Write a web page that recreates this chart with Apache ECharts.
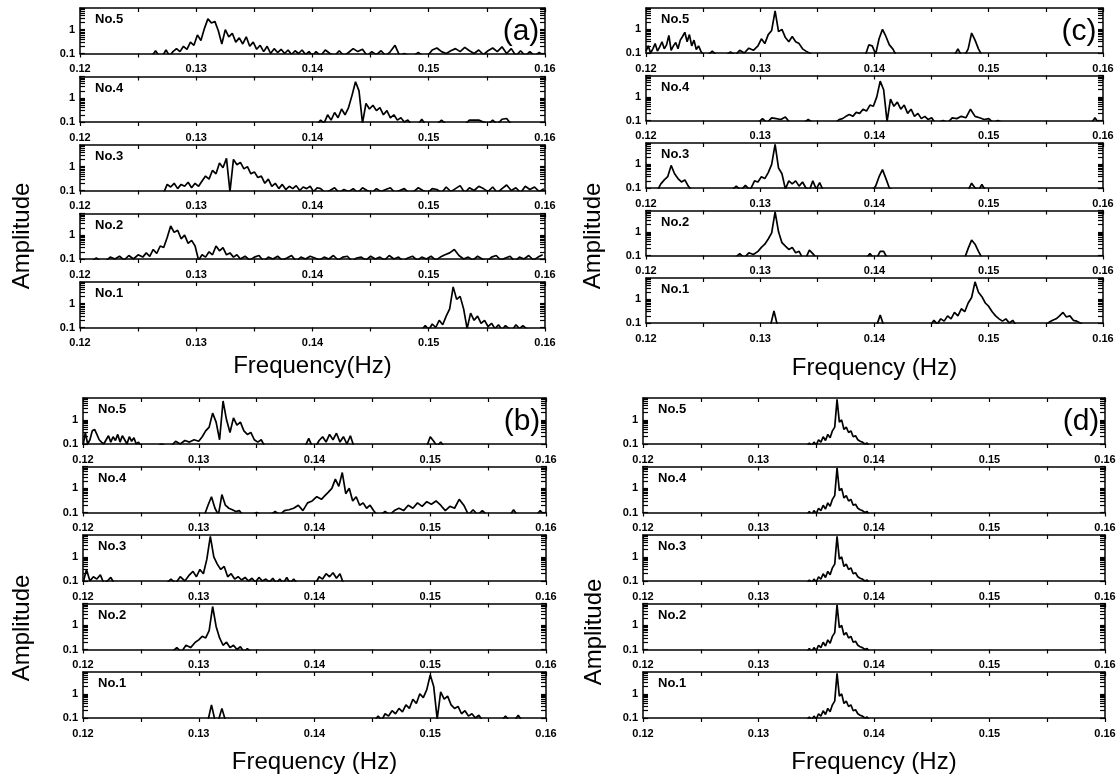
<!DOCTYPE html>
<html>
<head>
<meta charset="utf-8">
<script src="https://cdn.jsdelivr.net/npm/echarts/dist/echarts.min.js"></script>
<style>
  html, body { margin: 0; background: #fff; }
  #main { width: 1117px; height: 778px; }
</style>
</head>
<body>
<div id="main"></div>
<script>
// x axis: frequency range and labelled ticks
const freqRange = [0.12, 0.16]
const freqLabels = [0.12, 0.13, 0.14, 0.15, 0.16]
// y axis (log): range, labelled ticks and minor ticks
const ampRange = [0.1, 8]
const ampLabels = [0.1, 1]
const ampTicks = [0.1, 0.2, 0.3, 0.4, 0.5, 0.6, 0.7, 0.8, 0.9, 1, 2, 3, 4, 5, 6, 7, 8]
const traceNames = ['No.5', 'No.4', 'No.3', 'No.2', 'No.1']

// spectra: segments of [start frequency, frequency step, amplitudes]
const A5 = [
  [0.1262, 0.0003, [.08, .13, .08, .08, .14, .08, .12, .16, .12, .2, .15, .3, .22, .6, .35, 1.1, 2.8, 1.9, 2.2, .9, .25, 1.0, .5, .7, .3, .45, .25, .5, .2, .3, .15, .22, .12, .2, .1, .16, .11, .15, .1, .14, .09, .13, .1, .14, .09, .12, .08]],
  [0.1403, 0.0004, [.12, .08, .14, .1, .08, .13, .08, .11, .16, .12, .15, .08, .12, .09, .13, .08, .12, .22, .08, .1, .08, .08, .11, .08, .08, .14, .17, .12, .1, .13, .16, .12, .18, .13, .1, .14, .09, .13, .17, .12, .19, .1, .16, .08, .13, .08, .12, .08, .11, .08]]
]
const A4 = [
  [0.1404, 0.0003, [.08, .12, .09, .2, .12, .25, .15, .35, .2, .4, 1.3, 4.8, 2.0, .09, .6, .35, .5, .3, .4, .2, .3, .15, .2, .12, .15, .1, .12, .08, .08, .08, .13, .08, .08]],
  [0.1503, 0.0004, [.08, .08, .12, .08, .08, .08, .08, .08, .12, .12, .12, .1, .08, .12, .08, .13, .14, .08, .08]]
]
const A3 = [
  [0.1272, 0.0003, [.08, .18, .14, .2, .12, .18, .15, .22, .13, .2, .15, .25, .4, .3, .7, .5, 1.4, .9, 2.2, .09, 2.0, 1.2, 1.5, .8, 1.0, .5, .6, .35, .4, .2, .3, .15, .2, .12, .18, .11, .15, .12, .16, .1, .14, .12, .15, .09, .13]],
  [0.1407, 0.0004, [.12, .08, .1, .13, .08, .11, .09, .12, .08, .13, .1, .08, .12, .09, .11, .13, .08, .1, .12, .08, .09, .13, .1, .08, .12, .11, .08, .14, .09, .12, .16, .08, .13, .1, .15, .12, .09, .14, .08, .12, .17, .1, .13, .08, .15, .11, .14, .09, .12]]
]
const A2 = [
  [0.1210, 0.0004, [.08, .11, .08, .08, .12, .1, .13, .09, .14, .1, .15, .12]],
  [0.1257, 0.0003, [.18, .13, .25, .17, .35, .3, .8, 2.4, 1.3, 1.6, .7, 1.0, .45, .6, .35, .09, .15, .12, .2, .15, .35, .22, .3, .15, .18, .12, .15]],
  [0.1338, 0.0004, [.1, .13, .09, .12, .14, .08, .12, .1, .13, .09, .11, .14, .08, .12, .1, .13, .11, .09, .12, .1, .14, .09, .12, .13, .08, .11, .12, .09, .13, .1, .12, .09, .14, .1, .12, .08, .11, .13, .09, .12, .1, .13, .09, .12, .15, .18, .25, .14, .1, .12, .09, .13, .1, .08, .12, .14, .09, .11, .13, .08, .12, .1, .14, .09, .12, .15]]
]
const A1 = [
  [0.1494, 0.0003, [.08, .12, .08, .14, .1, .2, .13, .3, .6, 5.0, 1.5, 2.0, .6, .09, .4, .2, .3, .15, .2, .11, .15, .09, .13, .08, .12, .09, .08, .13, .09, .12, .09, .08]]
]

const C5 = [
  [0.1200, 0.0002, [.12, .2, .1, .15, .25, .12, .18, .3, .15, .22, .55, .13, .2, .28, .15, .35, .5, .75, .3, .6, .2, .35, .14, .2, .12, .08]],
  [0.1254, 0.0004, [.08, .12, .08, .08, .08, .11, .08, .13, .1, .16, .13, .2]],
  [0.1301, 0.0003, [.4, .25, .6, .9, 6.0, .8, 1.0, .45, .3, .5, .3, .25, .15, .12, .1, .08]],
  [0.1392, 0.0003, [.08, .22, .2, .09, .4, 1.0, .5, .22, .15, .08]],
  [0.1470, 0.0003, [.08, .15, .08, .08, .15, .7, .35, .15, .08]]
]
const C4 = [
  [0.1298, 0.0004, [.08, .12, .08, .13, .12, .11, .14, .08, .08, .08, .08, .11, .08]],
  [0.1366, 0.0003, [.08, .11, .12, .15, .18, .15, .22, .2, .3, .25, .45, .4, 1.0, 4.6, 2.0, .09, .8, .4, .6, .3, .45, .2, .3, .15, .2, .12, .15, .11, .13, .08]],
  [0.1456, 0.0004, [.08, .1, .08, .13, .12, .15, .13, .3, .15, .13, .11, .12, .08, .1, .08]],
  [0.1590, 0.0003, [.08, .13, .08]]
]
const C3 = [
  [0.1210, 0.0003, [.08, .15, .22, .3, .9, .4, .25, .18, .22, .12, .08]],
  [0.1275, 0.0004, [.08, .12, .08, .13, .08]],
  [0.1295, 0.0003, [.2, .18, .3, .25, .45, 1.0, 7.0, .7, .4, .09, .2, .15, .2, .12, .18, .1, .08, .2, .09, .17, .08]],
  [0.1398, 0.0003, [.08, .12, .3, .6, .25, .1, .08]],
  [0.1482, 0.0003, [.08, .16, .1, .08, .14, .08]]
]
const C2 = [
  [0.1278, 0.0004, [.08, .12, .08, .13, .11, .15]],
  [0.1301, 0.0003, [.22, .3, .5, .9, 7.0, 1.0, .35, .25, .18, .22, .13, .15, .08, .08, .17, .12, .08]],
  [0.1393, 0.0003, [.08, .12, .08, .08, .15, .15, .08]],
  [0.1479, 0.0003, [.08, .2, .45, .3, .15, .08]]
]
const C1 = [
  [0.1309, 0.0003, [.08, .32, .08]],
  [0.1402, 0.0003, [.08, .22, .08]],
  [0.1449, 0.0003, [.08, .13, .09, .15, .12, .2, .15, .28, .2, .4, .3, .7, 1.2, 5.5, 2.0, 1.3, .7, .5, .3, .2, .15, .12, .15, .1, .13, .08]],
  [0.1550, 0.0003, [.08, .11, .13, .15, .2, .28, .18, .2, .13, .12, .1, .08]]
]

const B5 = [
  [0.1200, 0.0002, [.08, .3, .1, .15, .35, .4, .25, .15, .12, .1, .15, .22, .12, .2, .14, .25, .12, .22, .15, .1, .2, .13, .18, .1, .12, .08, .08]],
  [0.1264, 0.0004, [.08, .1, .08, .08, .13, .1, .14, .12, .15, .13]],
  [0.1303, 0.0003, [.2, .35, .5, 1.9, .8, .15, 6.0, 1.0, .3, 1.2, .6, .8, .35, .25, .3, .15, .12, .15, .08]],
  [0.1392, 0.0003, [.08, .17, .08, .08, .14, .2, .12, .25, .15, .28, .12, .2, .1, .22, .08]],
  [0.1497, 0.0003, [.08, .2, .13, .08, .12, .08]]
]
const B4 = [
  [0.1305, 0.0003, [.08, .2, .45, .15, .08, .55, .2, .15, .13, .11, .12, .08]],
  [0.1346, 0.0004, [.08, .1, .08, .08, .08, .11, .08, .12, .13, .15, .2, .12, .25, .3, .45, .35]],
  [0.1409, 0.0003, [.5, .7, 1.0, 2.4, 1.2, 4.5, .6, 1.0, .3, .45, .2, .25, .15, .2, .12, .08]],
  [0.1457, 0.0004, [.08, .11, .08, .12, .15, .12, .2, .15, .25, .18, .28, .22, .3, .2, .12, .18, .15, .35, .2, .08, .13, .08, .12, .08]],
  [0.1569, 0.0003, [.08, .13, .08]],
  [0.1592, 0.0003, [.08, .12, .08]]
]
const B3 = [
  [0.1200, 0.0003, [.08, .3, .1, .15, .12, .18, .08, .1, .14, .08]],
  [0.1272, 0.0004, [.08, .12, .08, .15, .1, .18]],
  [0.1295, 0.0003, [.25, .15, .3, .2, .8, 7.0, 1.0, .5, .3, .4, .15, .2, .12, .15, .11, .14, .1, .13, .09, .14, .1, .12, .09, .13, .08, .12, .08, .14, .08, .12, .08]],
  [0.1401, 0.0003, [.08, .15, .12, .2, .15, .22, .13, .2, .08]]
]
const B2 = [
  [0.1277, 0.0004, [.08, .12, .08, .15, .12, .2]],
  [0.1300, 0.0003, [.25, .35, .3, .6, 6.0, .9, .3, .15, .2, .12, .15, .1, .13, .08, .11, .08]]
]
const B1 = [
  [0.1308, 0.0003, [.08, .35, .08, .08, .25, .08]],
  [0.1452, 0.0003, [.08, .12, .08, .15, .12, .2, .15, .25, .18, .35, .25, .6, .4, 1.0, .7, 1.5, 6.0, 2.0, .09, 1.2, .6, .8, .35, .25, .3, .15, .2, .12, .15, .1, .13, .08]],
  [0.1562, 0.0003, [.08, .12, .08]],
  [0.1573, 0.0003, [.08, .13, .08]]
]

// panel (d): the five records give the same spectrum
const D = [
  [0.1342, 0.0002, [.08, .11, .08, .12, .09, .15, .12, .2, .14, .25, .18, .35, .5, 7.0, .8, 1.0, .4, .5, .3, .35, .2, .22, .15, .13, .12, .1, .11, .08]]
]

// panel layout
const panels = [
  { tag: '(a)', xTitle: 'Frequency(Hz)', left: 80, right: 545, top: 8, step: 68.5, h: 45.5, titleY: 366, ampX: 22, ampY: 236, traces: [A5, A4, A3, A2, A1] },
  { tag: '(c)', xTitle: 'Frequency (Hz)', left: 646, right: 1103, top: 8, step: 67.5, h: 45, titleY: 368, ampX: 593, ampY: 236, traces: [C5, C4, C3, C2, C1] },
  { tag: '(b)', xTitle: 'Frequency (Hz)', left: 83, right: 546, top: 398, step: 68.5, h: 46, titleY: 762, ampX: 22, ampY: 628, traces: [B5, B4, B3, B2, B1] },
  { tag: '(d)', xTitle: 'Frequency (Hz)', left: 643, right: 1105, top: 398, step: 68.5, h: 46, titleY: 762, ampX: 594, ampY: 632, traces: [D, D, D, D, D] }
]

function toPoints(segs) {
  const pts = []
  segs.forEach(([f0, df, amps]) => {
    amps.forEach((a, i) => pts.push([+(f0 + i * df).toFixed(5), a]))
  })
  return pts
}

const FONT = '"Liberation Sans", Arial, sans-serif'
const black = { color: '#000', width: 1.5 }

const grids = []
const xAxes = []
const yAxes = []
const series = []
const texts = []

panels.forEach(p => {
  p.traces.forEach((trace, i) => {
    const g = grids.length
    const top = p.top + i * p.step
    grids.push({ left: p.left, top: top, width: p.right - p.left, height: p.h, containLabel: false, outerBoundsMode: 'none' })
    // bottom axis with labels
    xAxes.push({
      gridIndex: g, type: 'value', position: 'bottom', min: freqRange[0], max: freqRange[1], interval: 0.005,
      axisLine: { onZero: false, lineStyle: black },
      axisTick: { inside: false, length: 4, lineStyle: { color: '#000', width: 1.2 } },
      axisLabel: {
        margin: 10, color: '#000', fontSize: 11, fontWeight: 'bold', fontFamily: FONT,
        formatter: v => {
          const k = Math.round(v * 1000)
          return freqLabels.some(f => Math.round(f * 1000) === k) ? (k / 1000).toFixed(2) : ''
        }
      },
      splitLine: { show: false }
    })
    // top frame
    xAxes.push({
      gridIndex: g, type: 'value', position: 'top', min: freqRange[0], max: freqRange[1], interval: 0.005,
      axisLine: { onZero: false, lineStyle: black },
      axisTick: { inside: true, length: 4, lineStyle: { color: '#000', width: 1.2 } },
      axisLabel: { show: false },
      splitLine: { show: false }
    })
    yAxes.push({
      gridIndex: g, type: 'log', position: 'left', min: ampRange[0], max: ampRange[1],
      axisLine: { lineStyle: black },
      axisTick: { inside: true, length: 5, customValues: ampTicks, lineStyle: { color: '#000', width: 1.2 } },
      axisLabel: {
        customValues: ampLabels, margin: 5, color: '#000', fontSize: 11, fontWeight: 'bold', fontFamily: FONT,
        formatter: v => (v < 0.5 ? '0.1' : '1')
      },
      splitLine: { show: false }
    })
    yAxes.push({
      gridIndex: g, type: 'log', position: 'right', min: ampRange[0], max: ampRange[1],
      axisLine: { lineStyle: black },
      axisTick: { inside: true, length: 5, customValues: ampTicks, lineStyle: { color: '#000', width: 1.2 } },
      axisLabel: { show: false },
      splitLine: { show: false }
    })
    series.push({
      type: 'line', xAxisIndex: 2 * g, yAxisIndex: 2 * g,
      data: toPoints(trace), showSymbol: false, symbol: 'none', clip: true,
      lineStyle: { color: '#000', width: 1.7 }, animation: false
    })
    texts.push({
      type: 'text', left: p.left + 15, top: top + 5,
      style: { text: traceNames[i], fill: '#000', font: 'bold 13px ' + FONT }
    })
  })
  texts.push({
    type: 'text', x: (p.left + p.right) / 2, y: p.titleY,
    style: { text: p.xTitle, fill: '#000', font: '24px ' + FONT, align: 'center', verticalAlign: 'middle' }
  })
  texts.push({
    type: 'text', x: p.ampX, y: p.ampY, rotation: Math.PI / 2,
    style: { text: 'Amplitude', fill: '#000', font: '24px ' + FONT, align: 'center', verticalAlign: 'middle' }
  })
  texts.push({
    type: 'text', x: p.right - 24, y: p.top + 24,
    style: { text: p.tag, fill: '#000', font: '30px ' + FONT, align: 'center', verticalAlign: 'middle' }
  })
})

const chart = echarts.init(document.getElementById('main'))
chart.setOption({
  backgroundColor: '#fff',
  animation: false,
  grid: grids,
  xAxis: xAxes,
  yAxis: yAxes,
  series: series,
  graphic: { elements: texts }
})
</script>
</body>
</html>
